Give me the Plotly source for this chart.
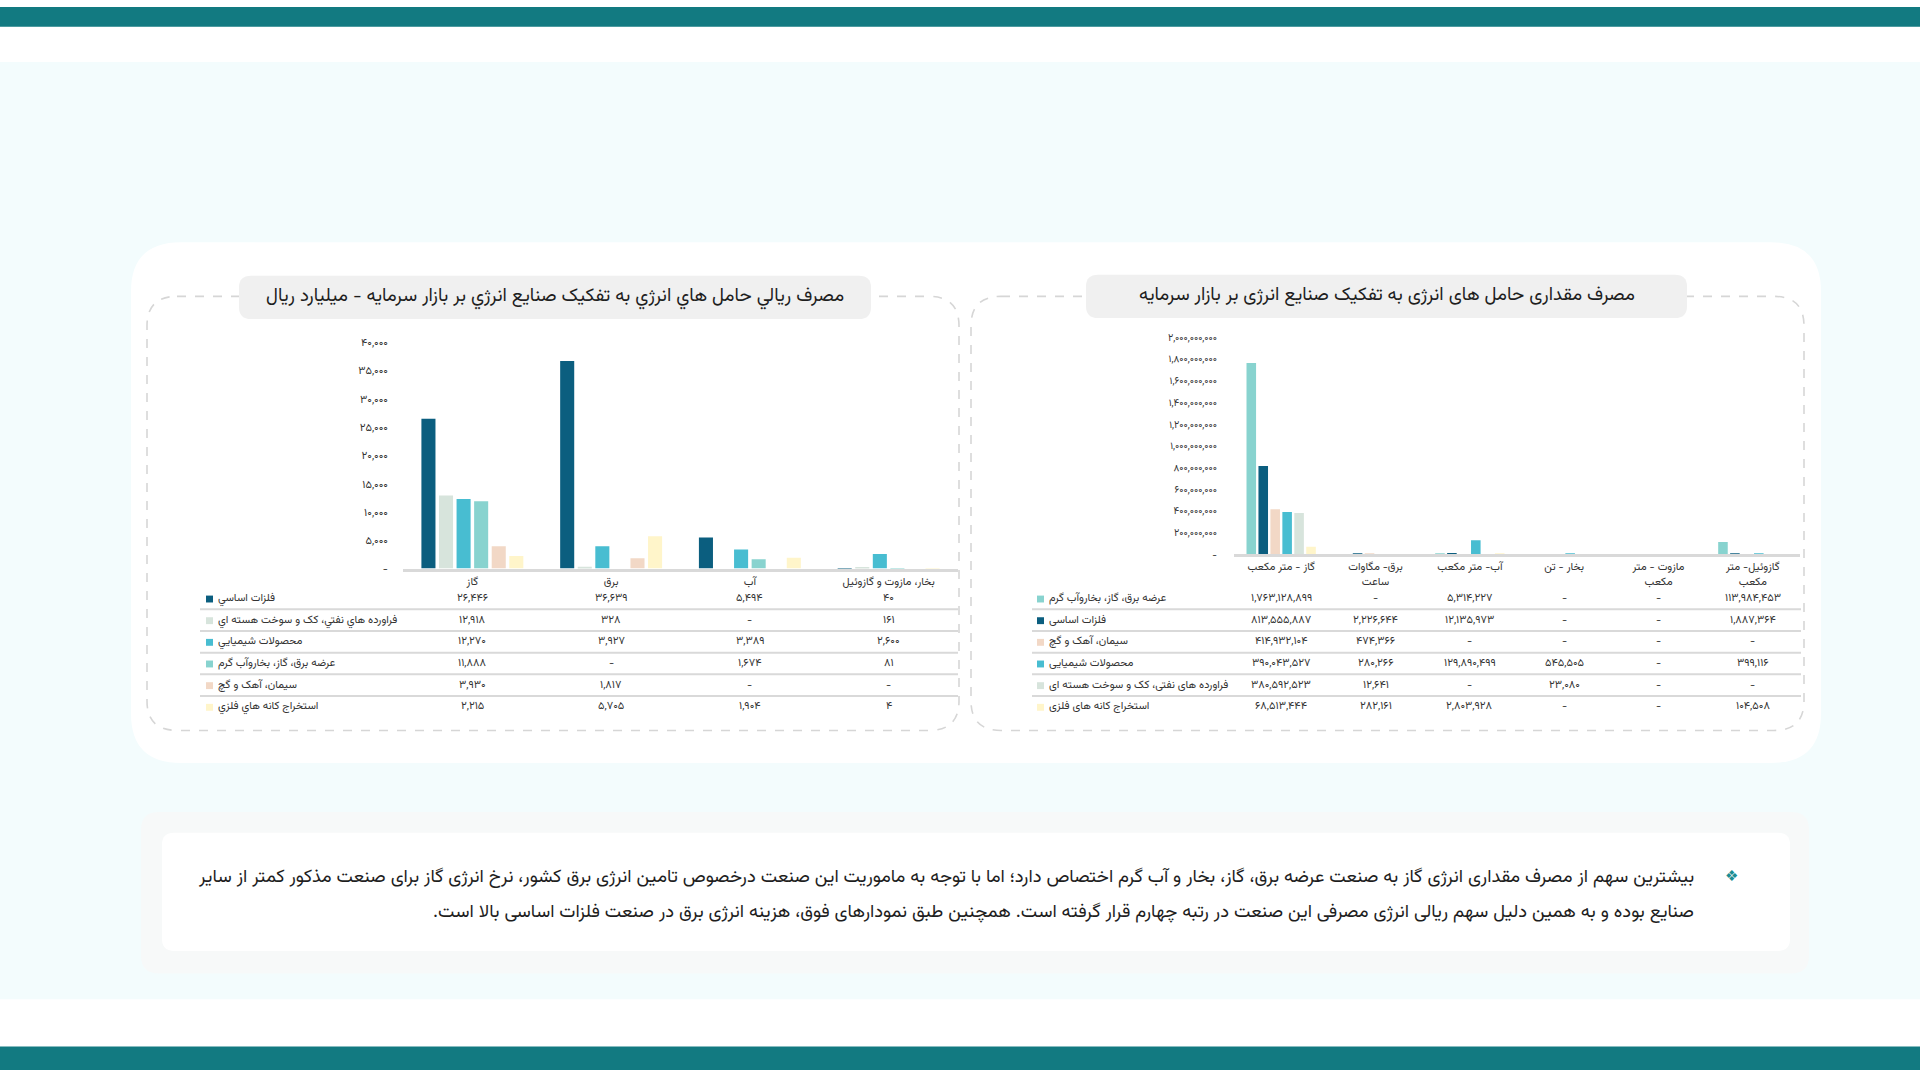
import plotly.graph_objects as go

# ---------------- data: مصرف ریالی (میلیارد ریال) ----------------
rial_cats = ["گاز", "برق", "آب", "بخار، مازوت و گازوئیل"]
rial_felezat = [26446, 36639, 5494, 40]
rial_faravarde = [12918, 328, None, 161]
rial_shimiyai = [12270, 3927, 3389, 2600]
rial_arze = [11888, None, 1674, 81]
rial_siman = [3930, 1817, None, None]
rial_estekhraj = [2215, 5705, 1904, 4]
rial_tickvals = [0, 5000, 10000, 15000, 20000, 25000, 30000, 35000, 40000]
rial_ticktext = ["-", "۵,۰۰۰", "۱۰,۰۰۰", "۱۵,۰۰۰", "۲۰,۰۰۰", "۲۵,۰۰۰", "۳۰,۰۰۰", "۳۵,۰۰۰", "۴۰,۰۰۰"]

# ---------------- data: مصرف مقداری ----------------
qty_cats = ["گاز - متر مکعب", "برق- مگاوات<br>ساعت", "آب- متر مکعب", "بخار - تن",
            "مازوت - متر<br>مکعب", "گازوئیل- متر<br>مکعب"]
qty_arze = [1763128899, None, 5314227, None, None, 113984453]
qty_felezat = [813555887, 2226644, 12135973, None, None, 1887364]
qty_siman = [414932104, 474366, None, None, None, None]
qty_shimiyai = [390043527, 280266, 129890499, 545505, None, 399116]
qty_faravarde = [380592523, 12641, None, 23080, None, None]
qty_estekhraj = [68513444, 282161, 2803928, None, None, 104508]
qty_tickvals = [0, 200000000, 400000000, 600000000, 800000000, 1000000000,
                1200000000, 1400000000, 1600000000, 1800000000, 2000000000]
qty_ticktext = ["-", "۲۰۰,۰۰۰,۰۰۰", "۴۰۰,۰۰۰,۰۰۰", "۶۰۰,۰۰۰,۰۰۰", "۸۰۰,۰۰۰,۰۰۰", "۱,۰۰۰,۰۰۰,۰۰۰",
                "۱,۲۰۰,۰۰۰,۰۰۰", "۱,۴۰۰,۰۰۰,۰۰۰", "۱,۶۰۰,۰۰۰,۰۰۰", "۱,۸۰۰,۰۰۰,۰۰۰", "۲,۰۰۰,۰۰۰,۰۰۰"]

title_rial = "مصرف ريالي حامل هاي انرژي به تفکيک صنايع انرژي بر بازار سرمايه - ميليارد ريال"
title_qty = "مصرف مقداری حامل های انرژی به تفکیک صنایع انرژی بر بازار سرمایه"
note_line1 = ("بیشترین سهم از مصرف مقداری انرژی گاز به صنعت عرضه برق، گاز، بخار و آب گرم اختصاص دارد؛ "
              "اما با توجه به ماموریت این صنعت درخصوص تامین انرژی برق کشور، نرخ انرژی گاز برای صنعت مذکور کمتر از سایر")
note_line2 = ("صنایع بوده و به همین دلیل سهم ریالی انرژی مصرفی این صنعت در رتبه چهارم قرار گرفته است. "
              "همچنین طبق نمودارهای فوق، هزینه انرژی برق در صنعت فلزات اساسی بالا است.")

C_DARK = "#0B5E7F"
C_GRAY = "#D7E4DC"
C_CYAN = "#48BDD1"
C_TEAL = "#88D3CF"
C_PEACH = "#F2D8C6"
C_CREAM = "#FFF5CA"
C_BAR = "#127A81"

rial_series = [
    ("فلزات اساسي", C_DARK, rial_felezat),
    ("فراورده هاي نفتي، کک و سوخت هسته اي", C_GRAY, rial_faravarde),
    ("محصولات شيميايي", C_CYAN, rial_shimiyai),
    ("عرضه برق، گاز، بخاروآب گرم", C_TEAL, rial_arze),
    ("سيمان، آهک و گچ", C_PEACH, rial_siman),
    ("استخراج کانه هاي فلزي", C_CREAM, rial_estekhraj),
]
qty_series = [
    ("عرضه برق، گاز، بخاروآب گرم", C_TEAL, qty_arze),
    ("فلزات اساسی", C_DARK, qty_felezat),
    ("سیمان، آهک و گچ", C_PEACH, qty_siman),
    ("محصولات شیمیایی", C_CYAN, qty_shimiyai),
    ("فراورده های نفتی، کک و سوخت هسته ای", C_GRAY, qty_faravarde),
    ("استخراج کانه های فلزی", C_CREAM, qty_estekhraj),
]

FONT = "Vazirmatn, Noto Sans Arabic, DejaVu Sans, sans-serif"
W, H = 1920, 1080
FA = str.maketrans("0123456789", "۰۱۲۳۴۵۶۷۸۹")


def fa(v):
    return "-" if v is None else f"{v:,}".translate(FA)


def X(px):
    return px / W


def Y(py):
    return 1 - py / H


def rrect(x0, y0, x1, y1, r):
    return (f"M {X(x0 + r)},{Y(y0)} L {X(x1 - r)},{Y(y0)} Q {X(x1)},{Y(y0)} {X(x1)},{Y(y0 + r)} "
            f"L {X(x1)},{Y(y1 - r)} Q {X(x1)},{Y(y1)} {X(x1 - r)},{Y(y1)} "
            f"L {X(x0 + r)},{Y(y1)} Q {X(x0)},{Y(y1)} {X(x0)},{Y(y1 - r)} "
            f"L {X(x0)},{Y(y0 + r)} Q {X(x0)},{Y(y0)} {X(x0 + r)},{Y(y0)} Z")


def text(t, x, y, size, color="#1E1E1E", xanchor="center", xref="paper", family=FONT):
    return dict(text=t, x=x, y=Y(y), xref=xref, yref="paper", xanchor=xanchor, yanchor="middle",
                showarrow=False, font=dict(size=size, color=color, family=family))


fig = go.Figure()

for name, color, vals in rial_series:
    fig.add_trace(go.Bar(x=rial_cats, y=vals, name=name, marker=dict(color=color, line_width=0),
                         xaxis="x", yaxis="y", showlegend=False))
for name, color, vals in qty_series:
    fig.add_trace(go.Bar(x=qty_cats, y=vals, name=name, marker=dict(color=color, line_width=0),
                         xaxis="x2", yaxis="y2", showlegend=False))

shapes = []
annotations = []

# page background
shapes.append(dict(type="rect", xref="paper", yref="paper", x0=0, x1=1, y0=Y(1008), y1=Y(56),
                   fillcolor="#F3FCFD", line_width=0, layer="below"))
shapes.append(dict(type="rect", xref="paper", yref="paper", x0=0, x1=1, y0=Y(20), y1=1,
                   fillcolor=C_BAR, line_width=0, layer="below"))
shapes.append(dict(type="rect", xref="paper", yref="paper", x0=0, x1=1, y0=0, y1=Y(1056),
                   fillcolor=C_BAR, line_width=0, layer="below"))
# white panel behind the two charts
shapes.append(dict(type="path", xref="paper", yref="paper", path=rrect(131, 239, 1821, 768, 50),
                   fillcolor="white", line_width=0, layer="below"))
# dashed frames
for x0, x1 in [(147, 959), (971, 1804)]:
    shapes.append(dict(type="path", xref="paper", yref="paper", path=rrect(x0, 294, x1, 735, 30),
                       line=dict(color="#D6D6D6", width=1.6, dash="dash"), layer="below"))
# title boxes
shapes.append(dict(type="path", xref="paper", yref="paper", path=rrect(239, 273, 871, 317, 12),
                   fillcolor="#F0F0F0", line_width=0, layer="below"))
shapes.append(dict(type="path", xref="paper", yref="paper", path=rrect(1086, 272, 1687, 316, 12),
                   fillcolor="#F0F0F0", line_width=0, layer="below"))
annotations.append(text(title_rial, X(555), 294, 18.6))
annotations.append(text(title_qty, X(1387), 293, 18.6))

# data tables under the charts
rows_y = [601, 623, 645, 667, 689, 711]
tables = [
    (rial_series, rial_cats, "x", 206, 200, 958),
    (qty_series, qty_cats, "x2", 1037, 1032, 1801),
]
for series, cats, xref, sq_x, line_x0, line_x1 in tables:
    for i, (name, color, vals) in enumerate(series):
        ry = rows_y[i]
        shapes.append(dict(type="rect", xref="paper", yref="paper", x0=X(sq_x), x1=X(sq_x + 7),
                           y0=Y(ry + 4), y1=Y(ry - 3), fillcolor=color, line_width=0))
        annotations.append(text(name, X(sq_x + 10), ry, 11, "#333333", xanchor="left"))
        for cat, v in zip(cats, vals):
            annotations.append(text(fa(v), cat, ry, 11, "#333333", xref=xref))
        if i < len(series) - 1:
            shapes.append(dict(type="line", xref="paper", yref="paper", x0=X(line_x0), x1=X(line_x1),
                               y0=Y(ry + 11), y1=Y(ry + 11), line=dict(color="#D9D9D9", width=2)))

# note box
shapes.append(dict(type="path", xref="paper", yref="paper", path=rrect(141, 818, 1809, 982, 18),
                   fillcolor="#F7F9F9", line_width=0, layer="below"))
shapes.append(dict(type="path", xref="paper", yref="paper", path=rrect(162, 839, 1790, 959, 12),
                   fillcolor="white", line_width=0, layer="below"))
annotations.append(text("❖", X(1731), 883, 15, "#1B8D93", family="DejaVu Sans"))
annotations.append(text(note_line1 + "\u200f", X(1696), 884, 18.4, xanchor="right"))
annotations.append(text(note_line2 + "\u200f", X(1696), 920, 18.4, xanchor="right"))

axis_font = dict(size=11, color="#333333", family=FONT)
fig.update_layout(
    width=W, height=H, autosize=False,
    margin=dict(l=0, r=0, t=0, b=0),
    paper_bgcolor="white", plot_bgcolor="rgba(0,0,0,0)",
    barmode="group", bargap=0.24, bargroupgap=0.2,
    font=dict(family=FONT),
    xaxis=dict(domain=[X(403), X(958)], anchor="y", type="category", showline=True,
               linecolor="#D9D9D9", linewidth=3, showgrid=False, ticks="", tickfont=axis_font,
               fixedrange=True),
    yaxis=dict(domain=[Y(570.6), Y(340.4)], anchor="x", range=[0, 40000], showgrid=False,
               zeroline=False, showline=False, tickvals=rial_tickvals, ticktext=rial_ticktext,
               tickfont=axis_font, ticks="", ticklabelstandoff=14, fixedrange=True),
    xaxis2=dict(domain=[X(1234), X(1800)], anchor="y2", type="category", showline=True,
                linecolor="#D9D9D9", linewidth=3, showgrid=False, ticks="", tickfont=axis_font,
                fixedrange=True),
    yaxis2=dict(domain=[Y(556), Y(335.5)], anchor="x2", range=[0, 2000000000], showgrid=False,
                zeroline=False, showline=False, tickvals=qty_tickvals, ticktext=qty_ticktext,
                tickfont=dict(size=10, color="#333333", family=FONT), ticks="",
                ticklabelstandoff=16, fixedrange=True),
    shapes=shapes,
    annotations=annotations,
)

# drop the default page margin; anything left around the figure takes the bar colour
page_js = ("var s=document.documentElement.style, b=document.body.style;"
           "s.margin='0'; s.padding='0'; s.background='" + C_BAR + "';"
           "b.margin='0'; b.padding='0'; b.background='" + C_BAR + "'; b.overflow='hidden';")
fig.write_html("out.html", config={"displayModeBar": False}, post_script=page_js)
